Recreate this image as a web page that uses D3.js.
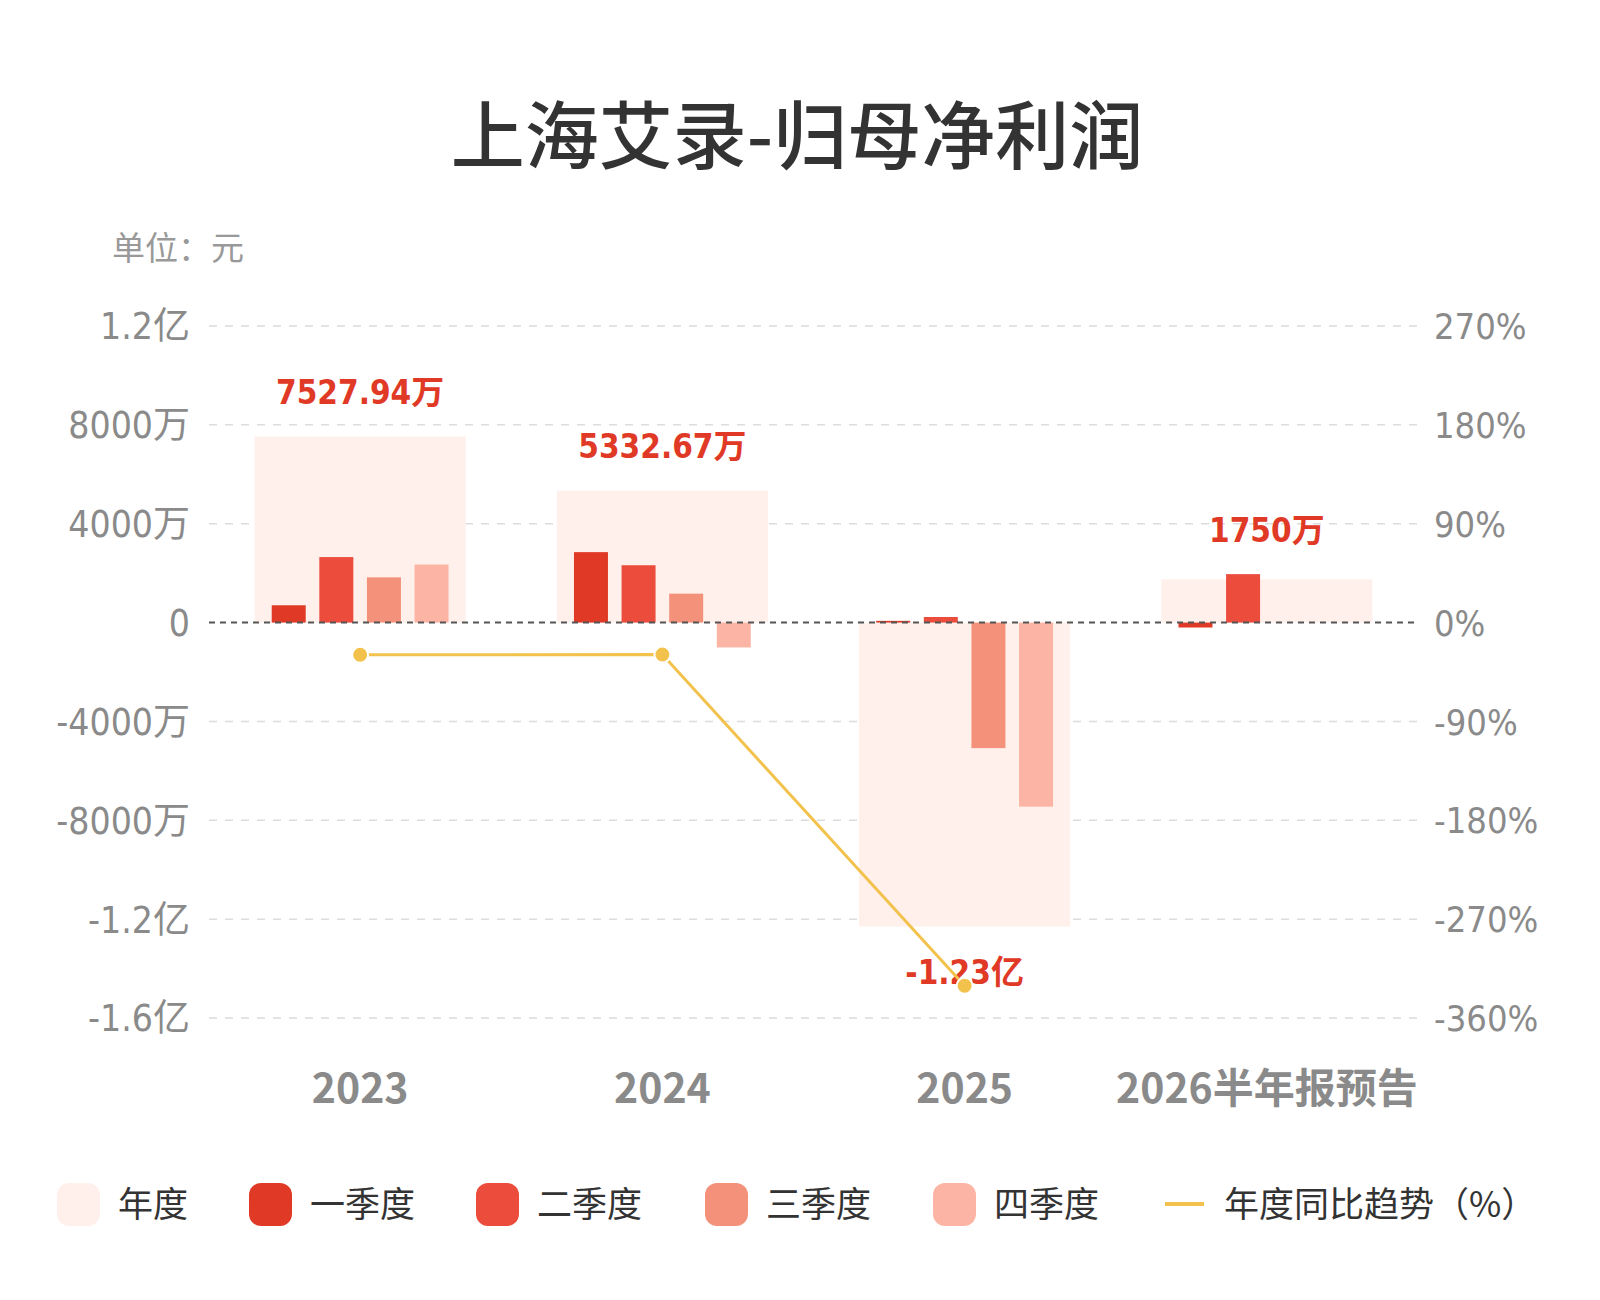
<!DOCTYPE html>
<html>
<head>
<meta charset="utf-8">
<script src="https://cdn.jsdelivr.net/npm/d3@7"></script>
<style>
  body { margin: 0; background: #fff; }
  svg { display: block; }
</style>
</head>
<body>
<div id="chart"></div>
<script>
// data (values in 万元)
const categories = ["2023", "2024", "2025", "2026半年报预告"];
const quarters = ["一季度", "二季度", "三季度", "四季度"];
const annual = [7527.94, 5332.67, -12300, 1750];
const q1 = [700, 2850, 70, -200];
const q2 = [2650, 2320, 225, 1960];
const q3 = [1830, 1170, -5080, null];
const q4 = [2348, -1007, -7450, null];
const yoy = [-29.4, -29.16, -330.7, null];
const leftTicks = [-16000, -12000, -8000, -4000, 0, 4000, 8000, 12000];
const rightTicks = [-360, -270, -180, -90, 0, 90, 180, 270];
const legendNames = ["年度", "一季度", "二季度", "三季度", "四季度", "年度同比趋势（%）"];

const width = 1600, height = 1300;
const numFont = "'DejaVu Sans Condensed', 'Noto Sans CJK SC', sans-serif";
const cjkFont = "'Noto Sans CJK SC', sans-serif";
const yearColor = "#fff0eb";
const qColors = ["#e03a27", "#eb4c3c", "#f3917a", "#fcb5a4"];
const lineColor = "#f2c24c";
const labelRed = "#e03a27";

let svg = d3.select("#chart").append("svg")
    .attr("width", width)
    .attr("height", height);

// title
svg.append("text")
    .attr("x", 797).attr("y", 130)
    .attr("text-anchor", "middle")
    .attr("dominant-baseline", "central")
    .attr("font-family", cjkFont)
    .attr("font-weight", 500)
    .attr("font-size", 74)
    .attr("fill", "#333")
    .text("上海艾录-归母净利润");

svg.append("text")
    .attr("x", 112).attr("y", 246)
    .attr("dominant-baseline", "central")
    .attr("font-family", cjkFont)
    .attr("font-size", 33)
    .attr("fill", "#999")
    .text("单位：元");

// scales
let xScale = d3.scaleBand().domain(categories).range([209, 1418]);
let qScale = d3.scaleBand().domain(quarters)
    .range([-xScale.bandwidth() * 0.2925, xScale.bandwidth() * 0.2925])
    .paddingInner(0.286);
let yScale = d3.scaleLinear().domain([-16000, 12000]).range([1018, 326]);
let pScale = d3.scaleLinear().domain([-360, 270]).range([1018, 326]);

function fmtTick(v) {
    if (v === 0) return "0";
    if (Math.abs(v) >= 10000) return (v / 10000) + "亿";
    return v + "万";
}
function fmtVal(v) {
    if (Math.abs(v) >= 10000) return (v / 10000).toFixed(2) + "亿";
    return (+v.toFixed(2)) + "万";
}

// grid lines
svg.append("g").selectAll("line")
    .data(leftTicks.filter(d => d !== 0))
    .enter().append("line")
    .attr("x1", 209).attr("x2", 1418)
    .attr("y1", d => yScale(d)).attr("y2", d => yScale(d))
    .attr("stroke", "#dcdcdc")
    .attr("stroke-width", 1.5)
    .attr("stroke-dasharray", "8,8");

// left axis
let leftAxis = d3.axisLeft(yScale).tickValues(leftTicks).tickFormat(fmtTick).tickSize(0).tickPadding(0);
let gl = svg.append("g").attr("transform", "translate(190,0)").call(leftAxis);
gl.select(".domain").remove();
gl.selectAll("text")
    .attr("font-family", numFont)
    .attr("font-size", 37)
    .attr("fill", "#8a8a8a")
    .attr("dy", "0.35em");

// right axis
let rightAxis = d3.axisRight(pScale).tickValues(rightTicks).tickFormat(d => d + "%").tickSize(0).tickPadding(0);
let gr = svg.append("g").attr("transform", "translate(1434,0)").call(rightAxis);
gr.select(".domain").remove();
gr.selectAll("text")
    .attr("font-family", numFont)
    .attr("font-size", 36)
    .attr("fill", "#8a8a8a")
    .attr("dy", "0.35em");

// x axis labels
let xAxis = d3.axisBottom(xScale).tickSize(0).tickPadding(0);
let gx = svg.append("g").attr("transform", "translate(0,1089)").call(xAxis);
gx.select(".domain").remove();
gx.selectAll("text")
    .attr("font-family", cjkFont)
    .attr("font-weight", "bold")
    .attr("font-size", 41)
    .attr("fill", "#8a8a8a")
    .attr("dy", "0.35em");

// annual background bars
let yearW = xScale.bandwidth() * 0.698;
svg.append("g").selectAll("rect")
    .data(annual)
    .enter().append("rect")
    .attr("x", (d, i) => xScale(categories[i]) + xScale.bandwidth() / 2 - yearW / 2)
    .attr("width", yearW)
    .attr("y", d => yScale(Math.max(0, d)))
    .attr("height", d => Math.abs(yScale(d) - yScale(0)))
    .attr("fill", yearColor);

// quarterly bars
let qSeries = [q1, q2, q3, q4];
qSeries.forEach((series, qi) => {
    svg.append("g").selectAll("rect")
        .data(series)
        .enter()
        .filter(d => d !== null)
        .append("rect")
        .attr("x", (d, i) => xScale(categories[i]) + xScale.bandwidth() / 2 + qScale(quarters[qi]))
        .attr("width", qScale.bandwidth())
        .attr("y", d => yScale(Math.max(0, d)))
        .attr("height", d => Math.abs(yScale(d) - yScale(0)))
        .attr("fill", qColors[qi]);
});

// zero line
svg.append("line")
    .attr("x1", 209).attr("x2", 1418)
    .attr("y1", yScale(0)).attr("y2", yScale(0))
    .attr("stroke", "#555")
    .attr("stroke-width", 2)
    .attr("stroke-dasharray", "6,5");

// annual value labels
svg.append("g").selectAll("text")
    .data(annual)
    .enter().append("text")
    .attr("x", (d, i) => xScale(categories[i]) + xScale.bandwidth() / 2)
    .attr("y", (d, i) => {
        let vals = [d, q1[i], q2[i], q3[i], q4[i]].filter(v => v !== null);
        if (d >= 0) return yScale(d3.max(vals)) - 44;
        return yScale(d3.min(vals)) + 46;
    })
    .attr("text-anchor", "middle")
    .attr("dy", "0.35em")
    .attr("font-family", numFont)
    .attr("font-weight", "bold")
    .attr("font-size", 33)
    .attr("fill", labelRed)
    .text(d => fmtVal(d));

// yoy line
let linePts = yoy.map((v, i) => [xScale(categories[i]) + xScale.bandwidth() / 2, v]).filter(p => p[1] !== null);
svg.append("path")
    .datum(linePts)
    .attr("d", d3.line().x(d => d[0]).y(d => pScale(d[1])))
    .attr("fill", "none")
    .attr("stroke", lineColor)
    .attr("stroke-width", 3);

svg.append("g").selectAll("circle")
    .data(linePts)
    .enter().append("circle")
    .attr("cx", d => d[0])
    .attr("cy", d => pScale(d[1]))
    .attr("r", 8)
    .attr("fill", lineColor)
    .attr("stroke", "#fff")
    .attr("stroke-width", 2);

// legend
let legendX = [57, 249, 476, 705, 933, 1165];
let legendColors = [yearColor].concat(qColors);
let lg = svg.append("g");
legendNames.forEach((name, i) => {
    if (i < 5) {
        lg.append("rect")
            .attr("x", legendX[i]).attr("y", 1183)
            .attr("width", 43).attr("height", 43)
            .attr("rx", 12)
            .attr("fill", legendColors[i]);
        lg.append("text")
            .attr("x", legendX[i] + 61).attr("y", 1201)
            .attr("dominant-baseline", "central")
            .attr("font-family", cjkFont)
            .attr("font-size", 35)
            .attr("fill", "#333")
            .text(name);
    } else {
        lg.append("line")
            .attr("x1", legendX[i]).attr("x2", legendX[i] + 39)
            .attr("y1", 1204).attr("y2", 1204)
            .attr("stroke", lineColor)
            .attr("stroke-width", 4);
        lg.append("text")
            .attr("x", legendX[i] + 59).attr("y", 1201)
            .attr("dominant-baseline", "central")
            .attr("font-family", cjkFont)
            .attr("font-size", 35)
            .attr("fill", "#333")
            .text(name);
    }
});
</script>
</body>
</html>
